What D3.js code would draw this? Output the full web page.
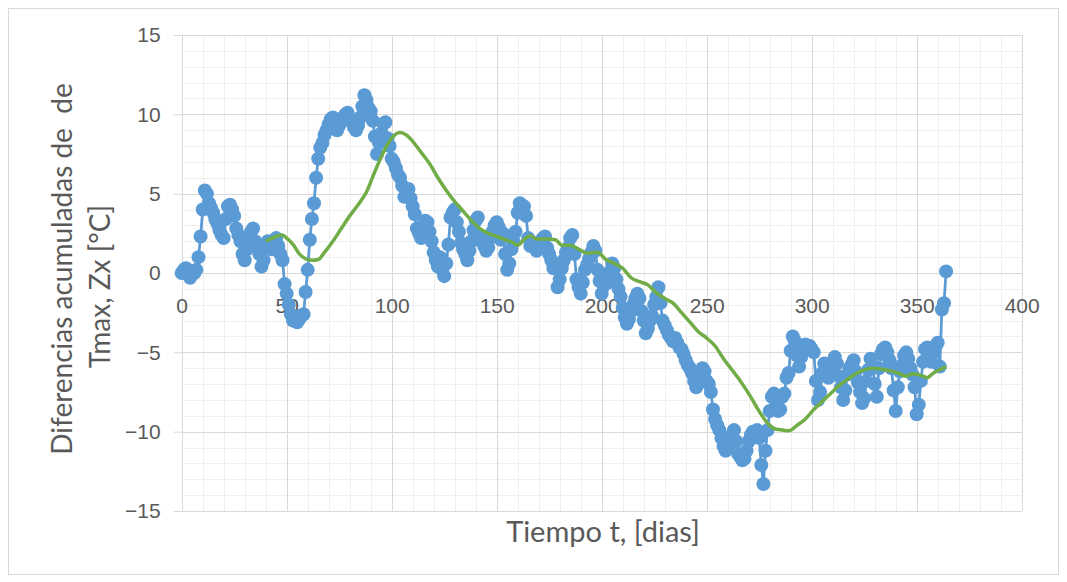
<!DOCTYPE html>
<html>
<head>
<meta charset="utf-8">
<script src="https://cdn.jsdelivr.net/npm/d3@7"></script>
<style>
  body { margin: 0; background: #fff; }
  svg { display: block; font-family: Lato, "Open Sans", sans-serif; }
</style>
</head>
<body>
<svg id="chart" width="1067" height="582"></svg>
<script>
// cumulative differences of Tmax, one value per day (day = index)
const zxValues = [
  0, 0.2, 0.3, -0.1, -0.3, 0.1, 0, 0.2, 1.0, 2.3,
  4.0, 5.2, 5.0, 4.4, 4.1, 3.8, 3.4, 3.1, 2.7, 2.4,
  2.2, 3.4, 4.2, 4.3, 4.0, 3.6, 2.8, 2.4, 2.0, 1.2,
  0.8, 1.5, 2.0, 2.6, 2.8, 2.0, 1.8, 1.2, 0.4, 0.8,
  1.6, 2.0, 1.8, 1.5, 2.0, 2.2, 1.7, 1.2, 0.8, -0.7,
  -1.3, -2.0, -2.6, -3.0, -2.8, -3.1, -2.9, -2.7, -2.6, -1.2,
  0.2, 2.1, 3.4, 4.4, 6.0, 7.2, 7.9, 8.2, 8.7, 9.0,
  9.4, 9.7, 9.8, 9.5, 9.0, 9.3, 9.6, 9.8, 10.0, 10.1,
  9.7, 9.5, 9.2, 9.0, 9.3, 9.8, 10.5, 11.2, 10.9, 10.4,
  10.2, 9.6, 8.6, 7.5, 8.2, 8.8, 9.4, 9.5, 8.5, 8.0,
  7.2, 7.0, 6.6, 6.2, 6.0, 5.5, 4.8, 5.0, 5.3, 4.7,
  4.2, 3.7, 2.8, 2.5, 2.2, 3.0, 3.3, 3.2, 2.6, 2.0,
  1.3, 0.8, 0.4, 1.0, 0.2, -0.2, 0.6, 1.8, 3.5, 3.8,
  4.0, 3.2, 2.6, 1.9, 1.5, 1.2, 0.8, 1.4, 2.0, 2.7,
  3.3, 3.5, 2.3, 2.0, 1.7, 1.4, 1.6, 2.2, 2.6, 3.0,
  3.2, 2.9, 2.1, 2.5, 1.2, 0.2, 0.6, 1.5, 2.0, 2.6,
  3.8, 4.4, 4.0, 4.2, 3.6, 2.2, 1.7, 1.9, 1.6, 1.4,
  1.8, 2.0, 2.2, 2.3, 1.6, 1.2, 0.8, 0.3, 0.4, -0.9,
  -0.4, 0.3, 0.8, 1.3, 1.6, 2.2, 2.4, 1.2, -0.4, -0.9,
  -1.3, -0.6, 0.2, 0.5, 0.9, 1.3, 1.7, 1.4, 0.2, -0.5,
  -1.3, -0.8, -0.2, -0.6, 0.1, 0.6, 0.3, -0.4, -1.0, -1.5,
  -2.2, -2.8, -3.2, -2.9, -2.4, -2.0, -1.6, -1.3, -1.6, -2.4,
  -3.0, -3.8, -3.5, -3.0, -2.7, -2.0, -1.5, -0.9, -1.9, -3.0,
  -3.3, -3.6, -3.9, -4.1, -4.3, -4.1, -4.4, -4.7, -4.8, -5.1,
  -5.5, -5.8, -6.0, -6.3, -6.8, -7.2, -6.5, -6.3, -6.0, -6.2,
  -6.8, -7.0, -7.5, -8.6, -9.2, -9.6, -9.9, -10.4, -10.9, -11.2,
  -11.0, -10.5, -10.2, -9.9, -10.6, -11.4, -11.6, -11.8, -11.7, -11.2,
  -10.6, -10.2, -10.0, -10.1, -9.9, -10.4, -12.1, -13.3, -11.2, -9.9,
  -8.7, -7.8, -7.6, -8.0, -8.7, -8.6, -7.8, -7.6, -6.6, -6.3,
  -4.9, -4.0, -4.3, -5.2, -5.9, -5.3, -4.9, -4.5, -4.7, -4.6,
  -4.8, -5.0, -6.8, -8.0, -7.5, -6.3, -5.7, -5.9, -6.6, -6.2,
  -5.6, -5.3, -5.7, -6.5, -7.2, -8.0, -7.4, -6.4, -6.0, -5.8,
  -5.5, -6.2, -6.9, -7.5, -8.2, -7.9, -6.8, -6.1, -5.4, -5.8,
  -7.0, -7.8, -6.0, -5.1, -4.8, -4.7, -5.0, -5.5, -6.0, -7.4,
  -8.7, -7.2, -6.2, -5.8, -5.2, -5.0, -5.4, -6.0, -6.4, -7.2,
  -8.9, -8.3, -6.8, -5.6, -4.8, -4.7, -5.1, -5.6, -5.0, -4.6,
  -4.4, -5.9, -2.3, -1.9, 0.1
];

// moving average (green)
const maDays = [40, 45, 48, 50, 53, 56, 59, 62, 65, 68, 72, 76, 80, 84, 88, 92, 96, 100, 104, 107,
  110, 114, 118, 122, 126, 130, 134, 138, 142, 146, 150, 154, 158, 160, 163, 166, 169, 174, 178, 181,
  185, 189, 193, 198, 202, 206, 210, 214, 218, 222, 226, 230, 234, 238, 242, 246, 250, 254, 258, 262,
  266, 270, 274, 278, 282, 286, 289, 293, 297, 301, 305, 309, 313, 317, 321, 325, 329, 333, 337, 341,
  345, 348, 352, 355, 358, 361, 364];
const maValues = [2.0, 2.3, 2.4, 2.2, 1.8, 1.2, 0.9, 0.8, 0.85, 1.3, 2.0, 2.8, 3.6, 4.3, 5.1, 6.4, 7.6, 8.5, 8.85, 8.7,
  8.3, 7.6, 6.9, 6.0, 5.2, 4.5, 3.9, 3.3, 2.8, 2.5, 2.3, 2.1, 1.9, 1.75, 2.1, 2.35, 2.15, 2.15, 2.1, 1.75,
  1.75, 1.5, 1.25, 1.3, 0.85, 0.6, 0.3, -0.3, -0.55, -0.75, -1.25, -1.6, -1.9, -2.5, -3.1, -3.7, -4.1, -4.6, -5.4, -6.1,
  -6.8, -7.6, -8.5, -9.3, -9.8, -9.9, -9.95, -9.6, -9.2, -8.6, -8.1, -7.6, -7.1, -6.7, -6.35, -6.1, -6.0, -6.05, -6.15, -6.3,
  -6.5, -6.35, -6.45, -6.6, -6.3, -6.1, -5.9];

const xTicks = [0, 50, 100, 150, 200, 250, 300, 350, 400];
const yTicks = [-15, -10, -5, 0, 5, 10, 15];

const svg = d3.select("#chart");

const x = d3.scaleLinear().domain([0, 400]).range([181.7, 1021.7]);
const y = d3.scaleLinear().domain([-15, 15]).range([511, 35]);

// outer chart border
svg.append("rect")
  .attr("x", 8.5).attr("y", 8.5)
  .attr("width", 1050).attr("height", 566)
  .attr("fill", "#fff")
  .attr("stroke", "#d9d9d9");

// minor grid
const grid = svg.append("g");
grid.selectAll(".minor-x")
  .data(d3.range(0, 401, 10).filter((d) => d % 50 !== 0))
  .join("line")
  .attr("x1", (d) => Math.round(x(d)) + 0.5).attr("x2", (d) => Math.round(x(d)) + 0.5)
  .attr("y1", y(15)).attr("y2", y(-15))
  .attr("stroke", "#efefef");
grid.selectAll(".minor-y")
  .data(d3.range(-15, 16, 1).filter((d) => d % 5 !== 0))
  .join("line")
  .attr("x1", x(0)).attr("x2", x(400))
  .attr("y1", (d) => Math.round(y(d)) + 0.5).attr("y2", (d) => Math.round(y(d)) + 0.5)
  .attr("stroke", "#efefef");

// major grid
grid.selectAll(".major-x")
  .data(xTicks)
  .join("line")
  .attr("x1", (d) => Math.round(x(d)) + 0.5).attr("x2", (d) => Math.round(x(d)) + 0.5)
  .attr("y1", y(15)).attr("y2", y(-15))
  .attr("stroke", "#d9d9d9");
grid.selectAll(".major-y")
  .data(yTicks)
  .join("line")
  .attr("x1", x(0)).attr("x2", x(400))
  .attr("y1", (d) => Math.round(y(d)) + 0.5).attr("y2", (d) => Math.round(y(d)) + 0.5)
  .attr("stroke", "#d9d9d9");

// y axis
const yAxis = svg.append("g")
  .attr("transform", `translate(${x(0)},0)`)
  .call(d3.axisLeft(y).tickValues(yTicks).tickSizeInner(8).tickSizeOuter(0).tickPadding(13));
yAxis.select(".domain").remove();
yAxis.selectAll("line").attr("stroke", "#d9d9d9");
yAxis.selectAll("text")
  .attr("fill", "#595959")
  .style("font-size", "21px");

// x axis labels sit below the zero line
const xAxis = svg.append("g")
  .attr("transform", `translate(0,${y(0)})`)
  .call(d3.axisBottom(x).tickValues(xTicks).tickSize(0).tickPadding(25));
xAxis.select(".domain").remove();
xAxis.selectAll("text")
  .attr("fill", "#595959")
  .style("font-size", "21px");

// axis titles
svg.append("text")
  .attr("x", 603).attr("y", 542)
  .attr("text-anchor", "middle")
  .attr("fill", "#595959")
  .style("font-size", "29px")
  .text("Tiempo t, [dias]");

const yTitle = svg.append("text")
  .attr("transform", "translate(0,276) rotate(-90)")
  .attr("text-anchor", "middle")
  .attr("fill", "#595959")
  .style("font-size", "28px")
  .style("white-space", "pre");
yTitle.append("tspan").attr("x", 7).attr("y", 72).text("Diferencias acumuladas de  de");
yTitle.append("tspan").attr("x", -10.5).attr("y", 110).text("Tmax, Zx [°C]");

// blue series
const blue = "#5b9bd5";
const line = d3.line()
  .x((d, i) => x(i))
  .y((d) => y(d));
svg.append("path")
  .datum(zxValues)
  .attr("fill", "none")
  .attr("stroke", blue)
  .attr("stroke-width", 2.75)
  .attr("d", line);
svg.append("g")
  .selectAll("circle")
  .data(zxValues)
  .join("circle")
  .attr("cx", (d, i) => x(i))
  .attr("cy", (d) => y(d))
  .attr("r", 7)
  .attr("fill", blue);

// green moving average
svg.append("path")
  .datum(maDays.map((d, i) => [d, maValues[i]]))
  .attr("fill", "none")
  .attr("stroke", "#70ad47")
  .attr("stroke-width", 3.5)
  .attr("stroke-linejoin", "round")
  .attr("d", d3.line().curve(d3.curveMonotoneX).x((d) => x(d[0])).y((d) => y(d[1])));
</script>
</body>
</html>
